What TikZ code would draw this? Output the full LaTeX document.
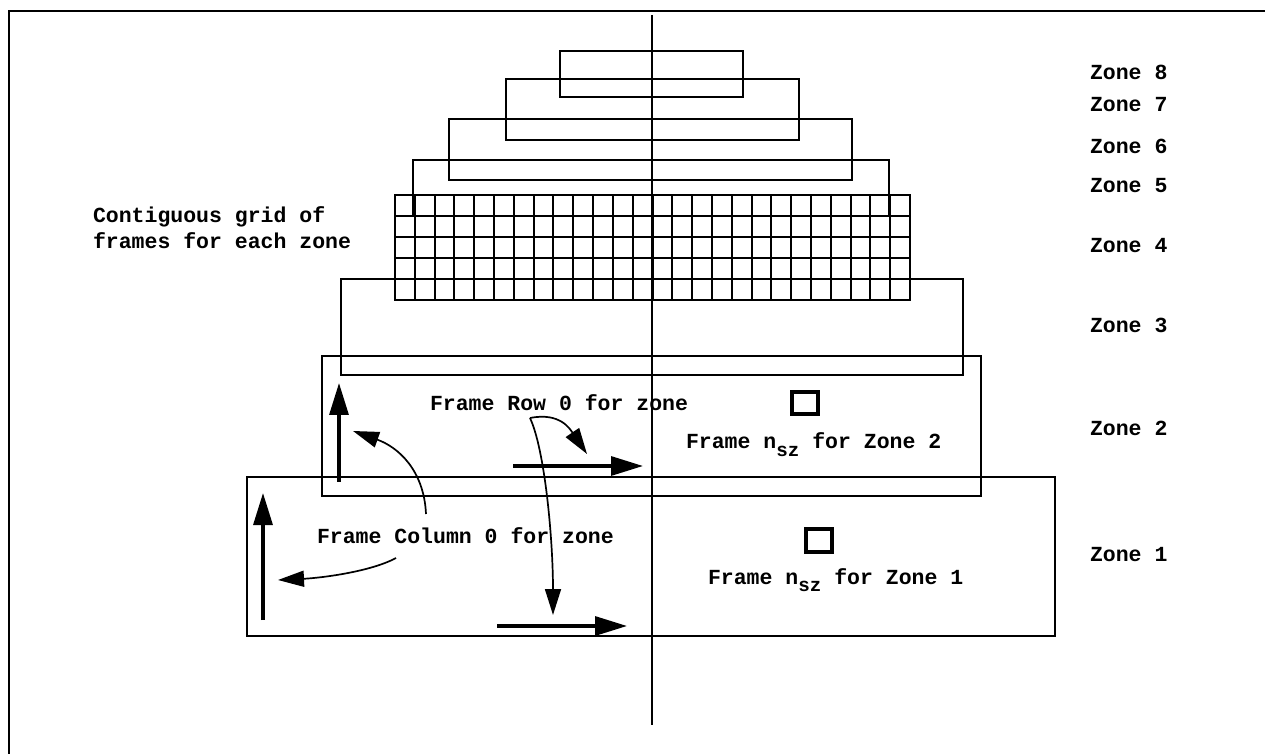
\documentclass[tikz,border=0pt]{standalone}
\usepackage{fontspec}
\setmonofont{Liberation Mono}
\usetikzlibrary{arrows.meta}
\newcommand{\fZ}{\fontsize{10.75}{13}\selectfont\ttfamily\bfseries}
\newcommand{\fSub}{\fontsize{9.6}{10}\selectfont\ttfamily\bfseries}
\newcommand{\nsz}{n\raisebox{-3.8pt}{\fSub sz}}
\newcommand{\zonebox}[4]{\draw[zone] (#1,#3) rectangle (#2,#4);}
\newcommand{\zonelabel}[3]{\node[txt,anchor=base west] (#1) at (1090,#2) {\fZ Zone #3};}

\begin{document}
\begin{tikzpicture}[x=0.5pt,y=-0.5pt,
    txt/.style={inner sep=0pt,outer sep=0pt},
    border/.style={draw=black,line width=1.15pt,line join=miter},
    zone/.style={draw=black,line width=1.3pt},
    cell/.style={draw=black,line width=1pt},
    axis/.style={draw=black,line width=0.75pt},
    marker/.style={draw=black,line width=1.6pt},
    bigarr/.style={draw=black,line width=1.6pt,-{Triangle[length=16pt,width=9.5pt]}},
    bendarr/.style={draw=black,line width=0.85pt,-{Triangle[length=13pt,width=8pt]}}]
  \path[use as bounding box] (0,0) rectangle (1265,754);

  % page frame and centre line
  \draw[border] (9,754) -- (9,11) -- (1265,11);
  \coordinate (axtop) at (652,15);
  \coordinate (axbot) at (652,725);
  \draw[axis] (axtop) -- (axbot);

  % zones 8 to 5
  \zonebox{560}{743}{51}{97}
  \zonebox{506}{799}{79}{140}
  \zonebox{449}{852}{119}{180}
  \zonebox{413}{889}{160}{216}

  % zone 4: contiguous grid of frames
  \foreach \i in {0,...,26}
    \draw[cell] ({395+\i*515/26},195) -- ({395+\i*515/26},300);
  \foreach \j in {0,...,5}
    \draw[cell] (395,{195+\j*21}) -- (910,{195+\j*21});
  \zonebox{395}{910}{195}{300}

  % zones 3 to 1
  \zonebox{341}{963}{279}{375}
  \zonebox{322}{981}{356}{496}
  \zonebox{247}{1055}{477}{636}

  % frame n_sz markers
  \draw[marker] (792,392) rectangle (818,414);
  \draw[marker] (806,529) rectangle (832,552);

  % zone labels
  \zonelabel{z8}{80}{8}
  \zonelabel{z7}{112}{7}
  \zonelabel{z6}{154}{6}
  \zonelabel{z5}{193}{5}
  \zonelabel{z4}{253}{4}
  \zonelabel{z3}{333}{3}
  \zonelabel{z2}{436}{2}
  \zonelabel{z1}{561}{1}

  % notes
  \node[txt,anchor=base west] (gridnote) at (93,223) {\fZ Contiguous grid of};
  \node[txt,anchor=base west] (gridnote2) at (93,249) {\fZ frames for each zone};
  \node[txt,anchor=base west] (rowlabel) at (430,411) {\fZ Frame Row 0 for zone};
  \node[txt,anchor=base west] (collabel) at (317,543) {\fZ Frame Column 0 for zone};
  \node[txt,anchor=base west] (frame2) at (686,449) {\fZ Frame \nsz{} for Zone 2};
  \node[txt,anchor=base west] (frame1) at (708,584) {\fZ Frame \nsz{} for Zone 1};

  % row and column directions
  \coordinate (up2a) at (339,482);  \coordinate (up2b) at (339,383);
  \coordinate (rt2a) at (513,466);  \coordinate (rt2b) at (643,466);
  \coordinate (up1a) at (263,620);  \coordinate (up1b) at (263,493);
  \coordinate (rt1a) at (497,626);  \coordinate (rt1b) at (627,626);
  \draw[bigarr] (up2a) -- (up2b);
  \draw[bigarr] (rt2a) -- (rt2b);
  \draw[bigarr] (up1a) -- (up1b);
  \draw[bigarr] (rt1a) -- (rt1b);

  % pointers from the notes
  \coordinate (rowfoot) at (530,418);
  \coordinate (coltop) at (426,514);
  \coordinate (colfoot) at (396,558);
  \draw[bendarr] (coltop) .. controls (424,470) and (398,447) .. (353,431);
  \draw[bendarr] (colfoot) .. controls (370,572) and (320,578) .. (278,580);
  \draw[bendarr] (rowfoot) .. controls (560,412) and (570,429) .. (587,454);
  \draw[bendarr] (rowfoot) .. controls (545,450) and (553,540) .. (553,615);
\end{tikzpicture}
\end{document}
